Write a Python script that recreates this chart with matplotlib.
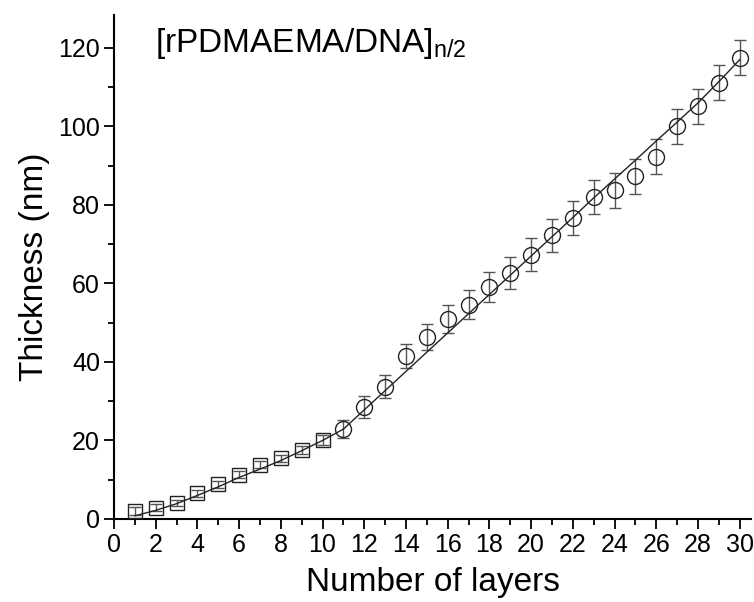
import matplotlib
matplotlib.use('Agg')
import matplotlib.pyplot as plt
from matplotlib.ticker import MultipleLocator

plt.rcParams['font.family'] = ['Liberation Sans', 'DejaVu Sans']
plt.rcParams['mathtext.default'] = 'regular'

# squares: layers 1-10
sq_layers = [1, 2, 3, 4, 5, 6, 7, 8, 9, 10]
sq_thick = [2.0, 2.9, 4.1, 6.6, 8.8, 11.3, 13.8, 15.5, 17.6, 20.1]
sq_err = [1.0, 0.8, 0.8, 0.9, 0.9, 0.9, 0.9, 0.9, 1.1, 1.2]

# circles: layers 11-30
ci_layers = list(range(11, 31))
ci_thick = [22.9, 28.6, 33.7, 41.5, 46.4, 50.9, 54.6, 59.1, 62.7, 67.3,
            72.3, 76.6, 82.0, 83.7, 87.3, 92.3, 100.0, 105.1, 111.2, 117.5]
ci_err = [2.3, 2.8, 3.0, 3.1, 3.4, 3.6, 3.7, 3.9, 4.0, 4.2,
          4.2, 4.3, 4.4, 4.4, 4.5, 4.5, 4.5, 4.5, 4.5, 4.5]

# fitted guide line
fit_layers = list(range(1, 31))
fit_thick = [0.8, 2.2, 3.9, 6.0, 8.2, 10.6, 12.7, 14.9, 17.4, 20.0,
             22.9, 27.8, 32.7, 37.6, 42.5, 47.4, 52.3, 57.2, 62.1, 67.0,
             71.9, 76.8, 81.8, 86.6, 91.4, 96.3, 101.1, 106.0, 111.4, 117.0]

fig = plt.figure(figsize=(7.54, 6.02), dpi=100)
ax = fig.add_axes([0.1512, 0.1379, 0.845, 0.8372])

ax.plot(fit_layers, fit_thick, color='#222222', linewidth=1.0, zorder=2)
ax.errorbar(sq_layers, sq_thick, yerr=sq_err, fmt='none', ecolor='#555555',
            elinewidth=1.0, capsize=4, capthick=1.0, zorder=1)
ax.errorbar(ci_layers, ci_thick, yerr=ci_err, fmt='none', ecolor='#555555',
            elinewidth=1.0, capsize=4, capthick=1.0, zorder=1)
ax.plot(sq_layers, sq_thick, linestyle='none', marker='s', markersize=10.5,
        markerfacecolor='none', markeredgecolor='#222222', markeredgewidth=1.0, zorder=3)
ax.plot(ci_layers, ci_thick, linestyle='none', marker='o', markersize=11.5,
        markerfacecolor='none', markeredgecolor='#222222', markeredgewidth=1.0, zorder=3)

ax.set_xlim(0, 30.55)
ax.set_ylim(0, 128.4)
ax.xaxis.set_major_locator(MultipleLocator(2))
ax.xaxis.set_minor_locator(MultipleLocator(1))
ax.yaxis.set_major_locator(MultipleLocator(20))
ax.yaxis.set_minor_locator(MultipleLocator(10))

for side in ['top', 'right']:
    ax.spines[side].set_visible(False)
for side in ['left', 'bottom']:
    ax.spines[side].set_linewidth(1.5)

ax.tick_params(which='major', direction='out', length=7, width=1.3, labelsize=18, pad=3)
ax.tick_params(which='minor', direction='out', length=4, width=1.3)

ax.set_xlabel('Number of layers', fontsize=24, labelpad=7)
ax.set_ylabel('Thickness (nm)', fontsize=24, labelpad=6)

ax.text(0.064, 0.927, r'[rPDMAEMA/DNA]$_{n/2}$', transform=ax.transAxes,
        fontsize=24, va='baseline', ha='left')

plt.savefig('out.png', dpi=100)
plt.close()
